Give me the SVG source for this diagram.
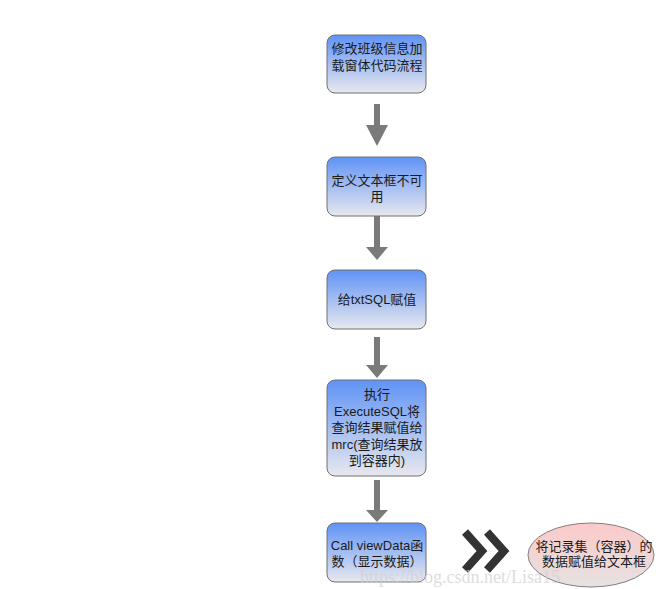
<svg xmlns="http://www.w3.org/2000/svg" width="660" height="589" viewBox="0 0 660 589">
<defs>
<linearGradient id="gb" x1="0" y1="0" x2="0" y2="1">
<stop offset="0" stop-color="#5f93f5"/>
<stop offset="1" stop-color="#e8e8ee"/>
</linearGradient>
<linearGradient id="gp" x1="0" y1="0" x2="0" y2="1">
<stop offset="0" stop-color="#fbc9c9"/>
<stop offset="1" stop-color="#e6e2e2"/>
</linearGradient>
<style>
.box{fill:url(#gb);stroke:#707070;stroke-width:1}
.t{font-family:"Liberation Sans","Noto Sans CJK SC",sans-serif;font-size:13px;fill:#1a1a1a;text-anchor:middle}
.ar{fill:#7a7a7a}
.wm{font-family:"Liberation Serif","Noto Sans CJK SC",serif;font-size:18px;fill:#d0d0d0;opacity:0.7}
</style>
</defs>
<rect width="660" height="589" fill="#ffffff"/>
<g id="connectors">
<polygon class="ar" points="374,104 380,104 380,125 388,125 377,146 366,125 374,125"/>
<polygon class="ar" points="374,216 380,216 380,247 388,247 377,260 366,247 374,247"/>
<polygon class="ar" points="374,337 380,337 380,365 388,365 377,378 366,365 374,365"/>
<polygon class="ar" points="374,480 380,480 380,510 388,510 377,522 366,510 374,510"/>
</g>
<g id="n1">
<rect class="box" x="327" y="35" width="99" height="58" rx="8"/>
<text class="t" x="377" y="53">修改班级信息加</text>
<text class="t" x="377" y="70">载窗体代码流程</text>
</g>
<g id="n2">
<rect class="box" x="327" y="157" width="99" height="59" rx="8"/>
<text class="t" x="377" y="185">定义文本框不可</text>
<text class="t" x="377" y="201">用</text>
</g>
<g id="n3">
<rect class="box" x="327" y="270" width="99" height="59" rx="8"/>
<text class="t" x="377" y="304">给txtSQL赋值</text>
</g>
<g id="n4">
<rect class="box" x="327" y="380" width="99" height="96" rx="8"/>
<text class="t" x="377" y="399">执行</text>
<text class="t" x="377" y="416">ExecuteSQL将</text>
<text class="t" x="377" y="432">查询结果赋值给</text>
<text class="t" x="377" y="449">mrc(查询结果放</text>
<text class="t" x="377" y="465">到容器内)</text>
</g>
<g id="n5">
<rect class="box" x="327" y="523" width="99" height="59" rx="8"/>
<text class="t" x="377" y="550">Call viewData函</text>
<text class="t" x="377" y="566">数（显示数据）</text>
</g>
<g id="chevrons">
<polyline points="465,532 482,551 465,570" fill="none" stroke="#333333" stroke-width="8"/>
<polyline points="487,532 504,551 487,570" fill="none" stroke="#333333" stroke-width="8"/>
</g>
<g id="n6">
<ellipse cx="591" cy="555" rx="63" ry="32" fill="url(#gp)" stroke="#808080" stroke-width="1"/>
<text class="t" x="594" y="551">将记录集（容器）的</text>
<text class="t" x="594" y="566">数据赋值给文本框</text>
</g>
<text class="wm" x="360" y="583">https://blog.csdn.net/Lisa15</text>
</svg>
